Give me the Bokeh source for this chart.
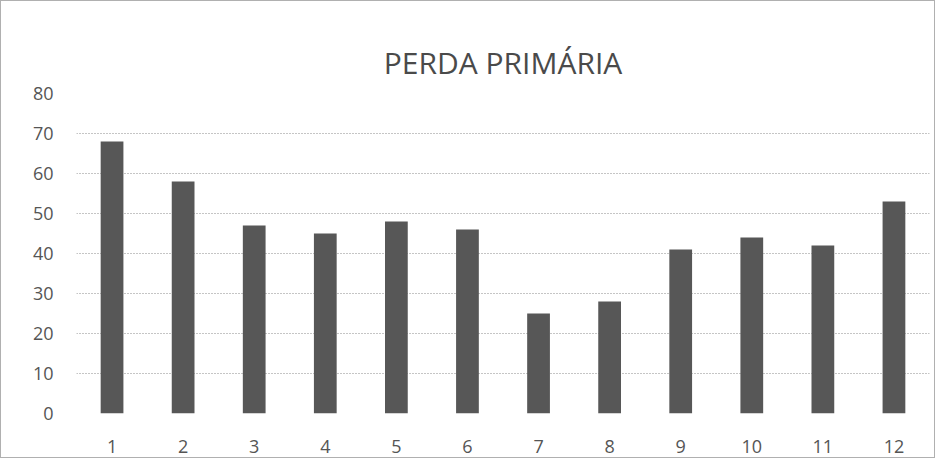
from bokeh.plotting import figure
from bokeh.models import ColumnDataSource, Range1d, FixedTicker
from bokeh.embed import file_html
from bokeh.resources import INLINE

categories = ["1", "2", "3", "4", "5", "6", "7", "8", "9", "10", "11", "12"]
values = [68, 58, 47, 45, 48, 46, 25, 28, 41, 44, 42, 53]
y_ticks = [0, 10, 20, 30, 40, 50, 60, 70, 80]
title_text = "PERDA PRIMÁRIA"

src = ColumnDataSource(dict(cat=categories, val=values))

p = figure(x_range=categories, y_range=Range1d(0, 80), width=935, height=458,
           output_backend="svg", toolbar_location=None, title=title_text,
           min_border_left=75, min_border_right=7, min_border_top=92, min_border_bottom=46)

p.vbar(x="cat", top="val", width=0.32, source=src, fill_color="#575757", line_color=None)

p.title.align = "center"
p.title.text_font = "Open Sans"
p.title.text_font_size = "30px"
p.title.text_font_style = "normal"
p.title.text_color = "#4a4a4a"
p.title.standoff = 22
p.title.offset = -12

p.outline_line_color = None
p.xgrid.grid_line_color = None
p.ygrid.grid_line_color = "#8a8a8a"
p.ygrid.grid_line_dash = "1 2"
p.ygrid.grid_line_width = 1

p.yaxis.ticker = FixedTicker(ticks=y_ticks)
for ax in (p.xaxis, p.yaxis):
    ax.axis_line_color = None
    ax.major_tick_line_color = None
    ax.minor_tick_line_color = None
    ax.major_label_text_font = "Open Sans"
    ax.major_label_text_font_size = "18px"
    ax.major_label_text_color = "#555555"
p.yaxis.major_label_standoff = 17
p.xaxis.major_label_standoff = 20
p.x_range.range_padding = 0.0

p.styles = {"border": "1px solid #b0b0b0"}

open("out.html", "w").write(file_html(p, INLINE))
